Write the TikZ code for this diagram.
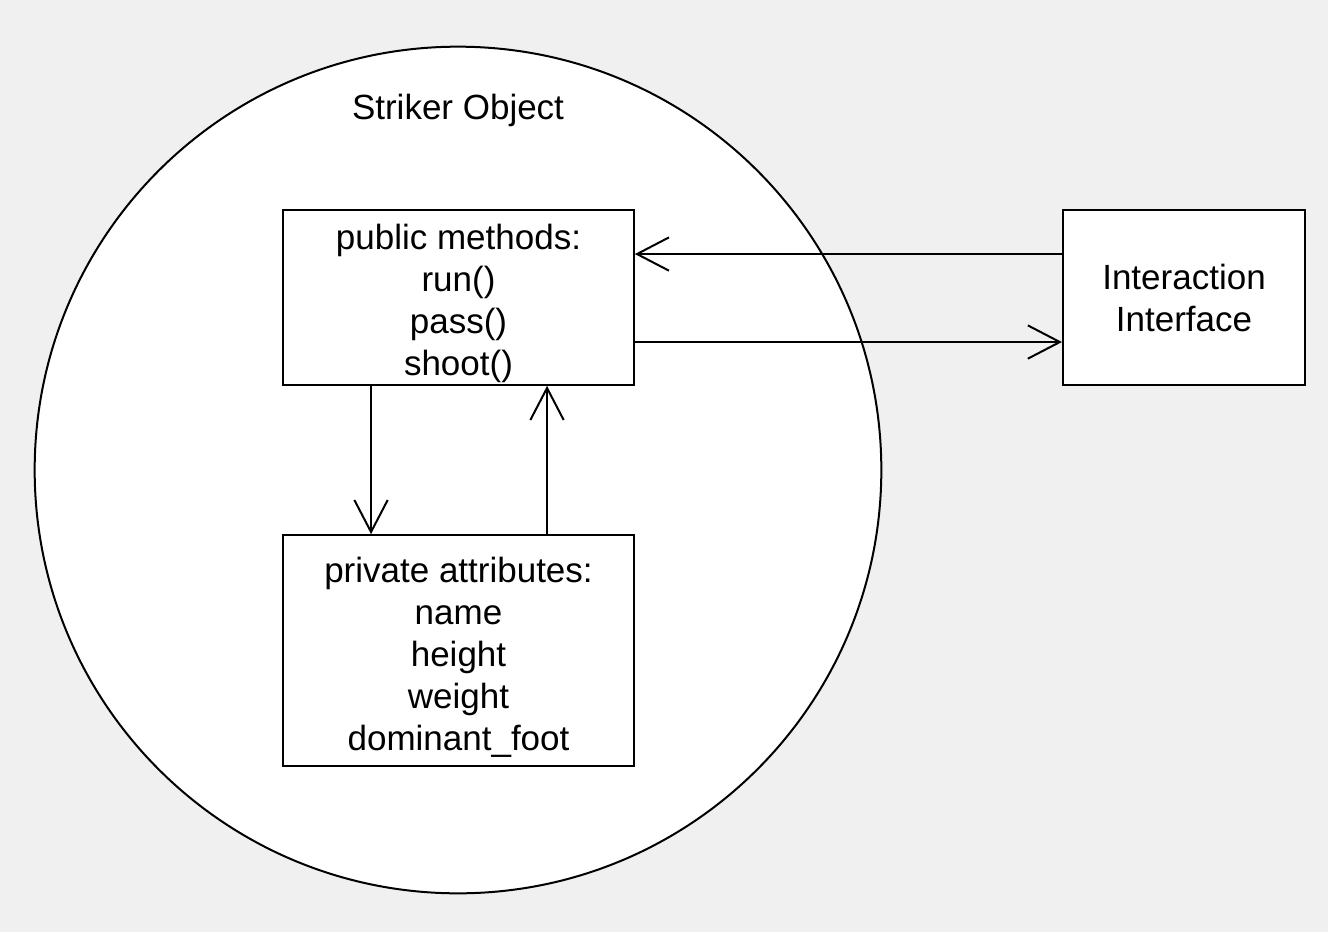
\documentclass[tikz,border=0pt]{standalone}
\usepackage{fontspec}
\setmainfont{Liberation Sans}
\usetikzlibrary{arrows.meta, positioning}

\newcommand{\toppad}{\rule{0pt}{28.5pt}}

\tikzset{
    blockbox/.style={draw, line width=1.5pt, fill=white, align=center, inner sep=0pt},
    link/.style={line width=1.5pt, -{Straight Barb[length=24pt, width=25pt, line width=1.5pt]}}
}

\begin{document}
\begin{tikzpicture}[x=0.75pt, y=-0.75pt, font=\fontsize{26.25}{31.5}\selectfont]
                        \fill[black!6] (0, 0) rectangle (1328, 932);
                        \useasboundingbox (0, 0) rectangle (1328, 932);
                        \node[draw, line width=1.5pt, fill=white, circle, minimum size=635pt] (obj) at (458, 470) {};
                        \node (title) at (458, 110) {Striker Object};
                        \node[blockbox, minimum width=263pt, minimum height=131pt] (methods) at (458.5, 297.5)
                            {\toppad public methods:\\run()\\pass()\\shoot()};
                        \node[blockbox, minimum width=263pt, minimum height=173pt] (attrs) at (458.5, 650.5)
                            {\toppad private attributes:\\name\\height\\weight\\dominant\_foot};
                        \node[blockbox, minimum width=181.5pt, minimum height=131pt] (iface) at (1184, 297.5)
                            {Interaction\\Interface};
                        \draw
                        ([yshift=32.6pt]iface.west) edge[link] ([yshift=32.6pt]methods.east)
                        ([yshift=-33.4pt]methods.east) edge[link] ([yshift=-33.4pt]iface.west)
                        ([xshift=-65.6pt]methods.south) edge[link] ([xshift=-65.6pt]attrs.north)
                        ([xshift=66.4pt]attrs.north) edge[link] ([xshift=66.4pt]methods.south);
                    \end{tikzpicture}
\end{document}
